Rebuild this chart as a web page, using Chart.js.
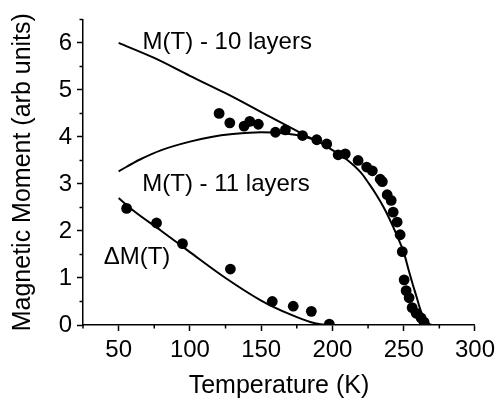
<!DOCTYPE html>
<html>
<head>
<meta charset="utf-8">
<script src="https://cdn.jsdelivr.net/npm/chart.js@4"></script>
<style>
  html, body { margin: 0; padding: 0; background: #fff; }
</style>
</head>
<body>
<canvas id="chart" width="500" height="402"></canvas>
<script>
// measured points, M(T) (K, arb units)
const dataT = [120.5, 128, 138, 142, 148, 160, 167, 179, 189, 196, 204, 209, 218, 224, 228, 233.5, 235, 238.4, 241.2, 242.6, 245.4, 247.5, 249, 250.3, 251.7, 253.8, 255.9, 258.7, 262.2, 264.3];
const dataM = [4.5, 4.3, 4.23, 4.33, 4.27, 4.1, 4.15, 4.03, 3.94, 3.85, 3.62, 3.64, 3.5, 3.36, 3.28, 3.1, 3.05, 2.77, 2.65, 2.4, 2.19, 1.92, 1.56, 0.96, 0.73, 0.58, 0.37, 0.25, 0.15, 0.06];

// measured points, delta M(T)
const deltaT = [55.6, 76.6, 94.8, 128.4, 157.8, 172.5, 185.2, 197.8];
const deltaM = [2.48, 2.17, 1.73, 1.19, 0.5, 0.4, 0.29, 0.02];

// model curves
const fit10T = [50, 75, 100, 125, 150, 175, 183, 190];
const fit10M = [6.0, 5.68, 5.3, 4.93, 4.53, 4.13, 4.0, 3.9];
const fit11T = [50, 65, 80, 100, 115, 130, 150, 165, 180, 190, 200, 210, 220, 226, 231, 236, 240, 245, 250, 253, 256, 259, 262, 265, 268, 272, 280];
const fit11M = [3.27, 3.52, 3.72, 3.9, 4.0, 4.06, 4.1, 4.08, 4.01, 3.9, 3.72, 3.52, 3.24, 2.99, 2.76, 2.5, 2.26, 1.92, 1.55, 1.22, 0.9, 0.6, 0.3, 0.1, 0.02, 0, 0];
const fitDT = [50, 60, 80, 100, 125, 150, 170, 185, 197, 200];
const fitDM = [2.7, 2.44, 2.0, 1.55, 1.0, 0.52, 0.23, 0.06, 0, 0];

const xTicks = [50, 100, 150, 200, 250, 300];
const yTicks = [0, 1, 2, 3, 4, 5, 6];
const xMinor = [25, 75, 125, 175, 225, 275];
const yMinor = [0.5, 1.5, 2.5, 3.5, 4.5, 5.5, 6.5];

const FONT = "'Liberation Sans', Arial, sans-serif";

function pts(xs, ys) {
    return xs.map((x, i) => ({ x: x, y: ys[i] }));
}

// text labels next to the curves
const curveLabels = {
    id: 'curveLabels',
    afterDatasetsDraw(chart) {
        const { ctx, scales: { x, y } } = chart;
        ctx.save();
        ctx.fillStyle = '#000';
        ctx.font = '24px ' + FONT;
        ctx.textAlign = 'left';
        ctx.textBaseline = 'alphabetic';
        ctx.fillText('M(T) - 10 layers', x.getPixelForValue(66.8), y.getPixelForValue(5.875));
        ctx.fillText('M(T) - 11 layers', x.getPixelForValue(66.6), y.getPixelForValue(2.85));
        ctx.fillText('\u0394M(T)', x.getPixelForValue(39.5), y.getPixelForValue(1.3));
        ctx.restore();
    }
};

// short minor ticks between the labelled ones
const minorTicks = {
    id: 'minorTicks',
    afterDraw(chart) {
        const { ctx, scales: { x, y } } = chart;
        ctx.save();
        ctx.strokeStyle = '#000';
        ctx.lineWidth = 1.5;
        ctx.beginPath();
        xMinor.forEach(v => {
            const px = x.getPixelForValue(v);
            ctx.moveTo(px, x.top);
            ctx.lineTo(px, x.top + 3.5);
        });
        yMinor.forEach(v => {
            const py = y.getPixelForValue(v);
            ctx.moveTo(y.right, py);
            ctx.lineTo(y.right - 3.5, py);
        });
        ctx.stroke();
        ctx.restore();
    }
};

const lineStyle = {
    showLine: true,
    borderColor: '#000',
    borderWidth: 2,
    pointRadius: 0,
    cubicInterpolationMode: 'monotone',
    fill: false
};

const dotStyle = {
    showLine: false,
    backgroundColor: '#000',
    borderWidth: 0,
    pointRadius: 5.4,
    pointHoverRadius: 5.4,
    clip: 0
};

new Chart(document.getElementById('chart'), {
    type: 'scatter',
    data: {
        datasets: [
            Object.assign({ label: 'M(T) - 10 layers', data: pts(fit10T, fit10M) }, lineStyle),
            Object.assign({ label: 'M(T) - 11 layers', data: pts(fit11T, fit11M) }, lineStyle),
            Object.assign({ label: 'dM fit', data: pts(fitDT, fitDM) }, lineStyle),
            Object.assign({ label: 'M(T) data', data: pts(dataT, dataM) }, dotStyle),
            Object.assign({ label: 'dM data', data: pts(deltaT, deltaM) }, dotStyle)
        ]
    },
    options: {
        responsive: false,
        animation: false,
        events: [],
        layout: { padding: { top: 13, right: 24, left: 0, bottom: 0 } },
        plugins: {
            legend: { display: false },
            tooltip: { enabled: false }
        },
        scales: {
            x: {
                type: 'linear',
                min: 25,
                max: 300,
                afterBuildTicks: s => { s.ticks = xTicks.map(v => ({ value: v })); },
                afterFit: s => { s.height = 77; },
                grid: { drawOnChartArea: false, drawTicks: true, tickLength: 6, tickColor: '#000', tickWidth: 1.5 },
                border: { display: true, color: '#000', width: 1.5 },
                ticks: { color: '#000', font: { family: FONT, size: 24 }, padding: 5, maxRotation: 0, autoSkip: false },
                title: {
                    display: true,
                    text: 'Temperature (K)',
                    color: '#000',
                    font: { family: FONT, size: 25 },
                    padding: { top: 0, bottom: 1 }
                }
            },
            y: {
                type: 'linear',
                min: 0,
                max: 6.5,
                afterBuildTicks: s => { s.ticks = yTicks.map(v => ({ value: v })); },
                afterFit: s => { s.width = 83; },
                grid: { drawOnChartArea: false, drawTicks: true, tickLength: 6, tickColor: '#000', tickWidth: 1.5 },
                border: { display: true, color: '#000', width: 1.5 },
                ticks: { color: '#000', font: { family: FONT, size: 24 }, padding: 5, autoSkip: false },
                title: {
                    display: true,
                    text: 'Magnetic Moment (arb units)',
                    color: '#000',
                    font: { family: FONT, size: 25 },
                    padding: { top: 8, bottom: 0 }
                }
            }
        }
    },
    plugins: [curveLabels, minorTicks]
});
</script>
</body>
</html>
